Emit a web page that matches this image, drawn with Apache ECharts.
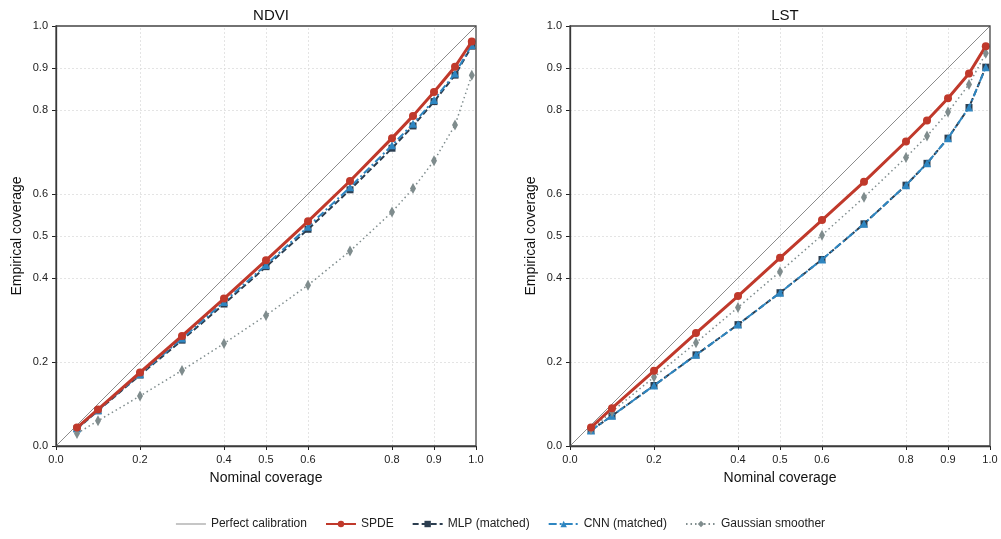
<!DOCTYPE html>
<html><head><meta charset="utf-8">
<script src="https://cdn.jsdelivr.net/npm/echarts@6/dist/echarts.min.js"></script>
<style>html,body{margin:0;padding:0;background:#fff}#c{width:1001px;height:539px}</style>
</head><body><div id="c"></div>
<script>
const nominal = [0.05, 0.1, 0.2, 0.3, 0.4, 0.5, 0.6, 0.7, 0.8, 0.85, 0.9, 0.95, 0.99];
const tickValues = [0.0, 0.2, 0.4, 0.5, 0.6, 0.8, 0.9, 1.0];
const panels = ['NDVI', 'LST'];
const seriesNames = ['SPDE', 'MLP (matched)', 'CNN (matched)', 'Gaussian smoother'];

const ndviSPDE = [0.044, 0.087, 0.175, 0.262, 0.351, 0.442, 0.535, 0.631, 0.733, 0.786, 0.843, 0.903, 0.963];
const ndviMLP  = [0.041, 0.084, 0.169, 0.252, 0.338, 0.427, 0.516, 0.610, 0.709, 0.762, 0.820, 0.883, 0.952];
const ndviCNN  = [0.042, 0.085, 0.171, 0.256, 0.343, 0.431, 0.522, 0.616, 0.716, 0.767, 0.824, 0.887, 0.955];
const ndviGS   = [0.030, 0.060, 0.119, 0.180, 0.244, 0.311, 0.383, 0.464, 0.557, 0.613, 0.679, 0.764, 0.883];

const lstSPDE = [0.044, 0.090, 0.179, 0.269, 0.357, 0.448, 0.538, 0.629, 0.725, 0.775, 0.828, 0.887, 0.952];
const lstMLP  = [0.037, 0.072, 0.144, 0.217, 0.289, 0.365, 0.444, 0.529, 0.621, 0.673, 0.733, 0.806, 0.902];
const lstCNN  = [0.037, 0.072, 0.144, 0.217, 0.289, 0.365, 0.444, 0.529, 0.621, 0.673, 0.733, 0.806, 0.902];
const lstGS   = [0.040, 0.082, 0.164, 0.246, 0.330, 0.415, 0.502, 0.592, 0.687, 0.738, 0.795, 0.861, 0.935];

const panelData = [[ndviSPDE, ndviMLP, ndviCNN, ndviGS], [lstSPDE, lstMLP, lstCNN, lstGS]];

const FONT = 'Liberation Sans';
const styles = [
  {color:'#c0392b', width:3, type:'solid', symbol:'circle', size:8},
  {color:'#2c3e50', width:2, type:[6,3], symbol:'rect', size:7},
  {color:'#2e86c1', width:2, type:[8,3,2,3], symbol:'triangle', size:8},
  {color:'#7f8c8d', width:1.5, type:[1.5,3], symbol:'diamond', size:[6,11]}
];

const chart = echarts.init(document.getElementById('c'), null, {renderer:'canvas'});
const grids = [], xAxes = [], yAxes = [], titles = [], series = [];
const lefts = [56, 570];
panels.forEach((p, i) => {
  grids.push({left: lefts[i], top: 26, width: 420, height: 420, show: true, borderColor: '#444', borderWidth: 1.3, backgroundColor: 'transparent', z: 10});
  titles.push({text: p, left: lefts[i] + 210, top: 3, textAlign: 'center',
    textStyle: {fontFamily: FONT, fontSize: 15, fontWeight: 'normal', color: '#111'}});
  const axisCommon = {
    type: 'value', min: 0, max: 1, gridIndex: i,
    axisLine: {show: true, lineStyle: {color: '#222', width: 1.3}},
    axisTick: {show: true, customValues: tickValues, length: 4, lineStyle: {color: '#222'}},
    axisLabel: {customValues: tickValues, fontFamily: FONT, fontSize: 11, color: '#222',
      formatter: v => v.toFixed(1)},
    splitLine: {show: false},
    nameTextStyle: {fontFamily: FONT, fontSize: 14, color: '#111'}
  };
  xAxes.push(Object.assign({}, axisCommon, {name: 'Nominal coverage', nameLocation: 'middle', nameGap: 25}));
  yAxes.push(Object.assign({}, axisCommon, {name: 'Empirical coverage', nameLocation: 'middle', nameGap: 32}));
  const gridLines = [];
  tickValues.filter(v => v > 0 && v < 1).forEach(v => {
    gridLines.push([{coord: [v, 0]}, {coord: [v, 1]}]);
    gridLines.push([{coord: [0, v]}, {coord: [1, v]}]);
  });
  series.push({
    name: 'Perfect calibration', type: 'line', xAxisIndex: i, yAxisIndex: i,
    data: [[0, 0], [1, 1]], showSymbol: false, symbol: 'none',
    lineStyle: {color: '#8c8c8c', width: 1}, itemStyle: {color: '#8c8c8c'},
    z: 1, silent: true,
    markLine: {silent: true, symbol: 'none', label: {show: false},
      lineStyle: {color: '#dddddd', width: 0.8, type: [2, 2]}, data: gridLines, z: 0}
  });
  const order = [3, 1, 2, 0];
  order.forEach(k => {
    const s = styles[k];
    series.push({
      name: seriesNames[k], type: 'line', xAxisIndex: i, yAxisIndex: i,
      data: nominal.map((x, j) => [x, panelData[i][k][j]]),
      symbol: s.symbol, symbolSize: s.size, showAllSymbol: true,
      lineStyle: {color: s.color, width: s.width, type: s.type},
      itemStyle: {color: s.color},
      z: 2 + (k === 0 ? 3 : k)
    });
  });
});

chart.setOption({
  animation: false,
  title: titles,
  grid: grids,
  xAxis: xAxes,
  yAxis: yAxes,
  legend: {
    bottom: 4, left: 'center', itemWidth: 30, itemHeight: 8, itemGap: 18,
    data: [{name: 'Perfect calibration', icon: 'path://M0 0H30V1H0Z', itemStyle: {color: '#8c8c8c'}},
      'SPDE', 'MLP (matched)', 'CNN (matched)', 'Gaussian smoother'],
    textStyle: {fontFamily: FONT, fontSize: 12, color: '#222'}
  },
  series: series
});
</script></body></html>
